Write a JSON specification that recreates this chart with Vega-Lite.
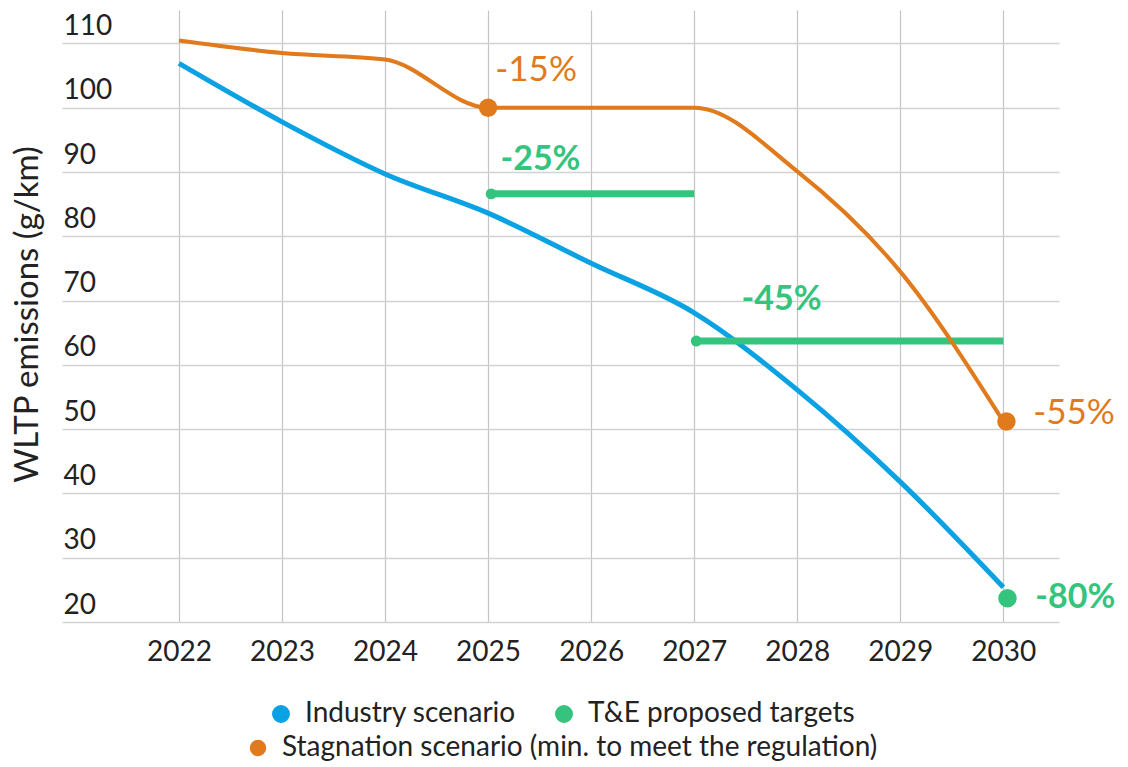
{
  "$schema": "https://vega.github.io/schema/vega-lite/v6.json",
  "width": 997,
  "height": 612,
  "autosize": {"type": "none"},
  "padding": {"left": 62, "top": 10, "right": 69, "bottom": 145},
  "background": "white",
  "config": {
    "font": "Lato",
    "view": {"stroke": null},
    "axis": {
      "domain": false,
      "ticks": false,
      "tickSize": 0,
      "labelFont": "Lato",
      "labelFontSize": 28,
      "labelColor": "#222222",
      "titleColor": "#222222",
      "titleFont": "Lato",
      "gridColor": "#d2d2d2",
      "gridWidth": 1.5
    },
    "legend": {
      "layout": {"bottom": {"direction": "vertical", "anchor": "middle", "center": true, "margin": 6}},
      "labelFont": "Lato",
      "labelFontSize": 28,
      "labelColor": "#222222",
      "labelLimit": 900,
      "symbolSize": 270,
      "symbolType": "circle",
      "labelOffset": 10,
      "columnPadding": 34,
      "offset": 34
    }
  },
  "datasets": {
    "industry": [
      {"year": 2022, "value": 106.9, "series": "Industry scenario"},
      {"year": 2023, "value": 97.8, "series": "Industry scenario"},
      {"year": 2024, "value": 89.7, "series": "Industry scenario"},
      {"year": 2025, "value": 83.6, "series": "Industry scenario"},
      {"year": 2026, "value": 75.8, "series": "Industry scenario"},
      {"year": 2027, "value": 68.1, "series": "Industry scenario"},
      {"year": 2028, "value": 56.1, "series": "Industry scenario"},
      {"year": 2029, "value": 41.8, "series": "Industry scenario"},
      {"year": 2030, "value": 25.4, "series": "Industry scenario"}
    ],
    "stagnation": [
      {"year": 2022, "value": 110.45, "series": "Stagnation scenario (min. to meet the regulation)"},
      {"year": 2023, "value": 108.5, "series": "Stagnation scenario (min. to meet the regulation)"},
      {"year": 2024, "value": 107.5, "series": "Stagnation scenario (min. to meet the regulation)"},
      {"year": 2025, "value": 100, "series": "Stagnation scenario (min. to meet the regulation)"},
      {"year": 2026, "value": 100, "series": "Stagnation scenario (min. to meet the regulation)"},
      {"year": 2027, "value": 100, "series": "Stagnation scenario (min. to meet the regulation)"},
      {"year": 2028, "value": 90.1, "series": "Stagnation scenario (min. to meet the regulation)"},
      {"year": 2029, "value": 74.5, "series": "Stagnation scenario (min. to meet the regulation)"},
      {"year": 2030, "value": 51.2, "series": "Stagnation scenario (min. to meet the regulation)"}
    ],
    "targets": [
      {"year": 2025, "value": 86.6, "series": "T&E proposed targets", "segment": "2025-2027"},
      {"year": 2027, "value": 86.6, "series": "T&E proposed targets", "segment": "2025-2027"},
      {"year": 2027, "value": 63.7, "series": "T&E proposed targets", "segment": "2027-2030"},
      {"year": 2030, "value": 63.7, "series": "T&E proposed targets", "segment": "2027-2030"}
    ],
    "targetStarts": [
      {"year": 2025.03, "value": 86.6, "series": "T&E proposed targets"},
      {"year": 2027.02, "value": 63.7, "series": "T&E proposed targets"}
    ],
    "stagDots": [
      {"year": 2025, "value": 100, "scenario": "Stagnation scenario (min. to meet the regulation)"},
      {"year": 2030.03, "value": 51.2, "scenario": "Stagnation scenario (min. to meet the regulation)"}
    ],
    "targetEnd": [
      {"year": 2030.04, "value": 23.7, "series": "T&E proposed targets"}
    ],
    "stagLabels": [
      {"year": 2025.07, "value": 105.9, "label": "-15%", "series": "Stagnation scenario (min. to meet the regulation)"},
      {"year": 2030.29, "value": 52.5, "label": "-55%", "series": "Stagnation scenario (min. to meet the regulation)"}
    ],
    "targetLabels": [
      {"year": 2025.12, "value": 91.9, "label": "-25%", "series": "T&E proposed targets"},
      {"year": 2027.46, "value": 70.1, "label": "-45%", "series": "T&E proposed targets"},
      {"year": 2030.31, "value": 23.7, "label": "-80%", "series": "T&E proposed targets"}
    ]
  },
  "encoding": {
    "x": {
      "field": "year",
      "type": "quantitative",
      "scale": {"domain": [2020.865, 2030.54], "nice": false, "zero": false},
      "axis": {
        "title": null,
        "values": [2022, 2023, 2024, 2025, 2026, 2027, 2028, 2029, 2030],
        "format": "d",
        "labelPadding": 16,
        "labelFlush": false,
        "gridColor": "#c4c4c4",
        "gridWidth": 1.2
      }
    },
    "y": {
      "field": "value",
      "type": "quantitative",
      "scale": {"domain": [20, 115.2], "nice": false, "zero": false},
      "axis": {
        "title": "WLTP emissions (g/km)",
        "titleFontSize": 33,
        "titleFontWeight": "normal",
        "titleAngle": 270,
        "titleAlign": "center",
        "titleBaseline": "middle",
        "titleX": -35,
        "titleY": 304,
        "values": [20, 30, 40, 50, 60, 70, 80, 90, 100, 110],
        "labelAlign": "left",
        "labelBaseline": "alphabetic",
        "labelOffset": -9,
        "labelPadding": -1,
        "labelFlush": false
      }
    }
  },
  "layer": [
    {
      "data": {"name": "industry"},
      "mark": {"type": "line", "interpolate": "monotone", "strokeWidth": 5},
      "encoding": {
        "color": {
          "field": "series",
          "type": "nominal",
          "scale": {
            "domain": ["Industry scenario", "T&E proposed targets", "Stagnation scenario (min. to meet the regulation)"],
            "range": ["#0AA2E3", "#35C47D", "#E07A1C"]
          },
          "legend": {
            "title": null,
            "orient": "bottom",
            "direction": "horizontal",
            "values": ["Industry scenario", "T&E proposed targets"],
            "symbolType": "circle",
            "encode": {
              "symbols": {
                "update": {
                  "fill": {"scale": "color", "field": "value"},
                  "stroke": {"value": "transparent"},
                  "opacity": {"value": 1}
                }
              }
            }
          }
        }
      }
    },
    {
      "data": {"name": "targets"},
      "mark": {"type": "line", "strokeWidth": 7, "strokeCap": "butt"},
      "encoding": {
        "color": {"field": "series", "type": "nominal"},
        "detail": {"field": "segment", "type": "nominal"}
      }
    },
    {
      "data": {"name": "stagnation"},
      "mark": {"type": "line", "interpolate": "monotone", "strokeWidth": 4},
      "encoding": {
        "color": {"field": "series", "type": "nominal"}
      }
    },
    {
      "data": {"name": "targetStarts"},
      "mark": {"type": "point", "filled": true, "opacity": 1, "size": 120},
      "encoding": {
        "color": {"field": "series", "type": "nominal"}
      }
    },
    {
      "data": {"name": "targetEnd"},
      "mark": {"type": "point", "filled": true, "opacity": 1, "size": 340},
      "encoding": {
        "color": {"field": "series", "type": "nominal"}
      }
    },
    {
      "data": {"name": "stagDots"},
      "mark": {"type": "point", "filled": true, "opacity": 1, "size": 340, "color": "#E07A1C"},
      "encoding": {
        "shape": {
          "field": "scenario",
          "type": "nominal",
          "scale": {"domain": ["Stagnation scenario (min. to meet the regulation)"], "range": ["circle"]},
          "legend": {
            "title": null,
            "orient": "bottom",
            "symbolFillColor": "#E07A1C",
            "symbolStrokeColor": "#E07A1C",
            "symbolOpacity": 1,
            "encode": {
              "symbols": {
                "update": {
                  "fill": {"value": "#E07A1C"},
                  "stroke": {"value": "transparent"},
                  "opacity": {"value": 1}
                }
              }
            }
          }
        }
      }
    },
    {
      "data": {"name": "stagLabels"},
      "mark": {"type": "text", "align": "left", "baseline": "middle", "fontSize": 35, "font": "Lato", "fontWeight": "normal"},
      "encoding": {
        "text": {"field": "label", "type": "nominal"},
        "color": {"field": "series", "type": "nominal"}
      }
    },
    {
      "data": {"name": "targetLabels"},
      "mark": {"type": "text", "align": "left", "baseline": "middle", "fontSize": 34, "font": "Lato", "fontWeight": "bold"},
      "encoding": {
        "text": {"field": "label", "type": "nominal"},
        "color": {"field": "series", "type": "nominal"}
      }
    }
  ]
}
